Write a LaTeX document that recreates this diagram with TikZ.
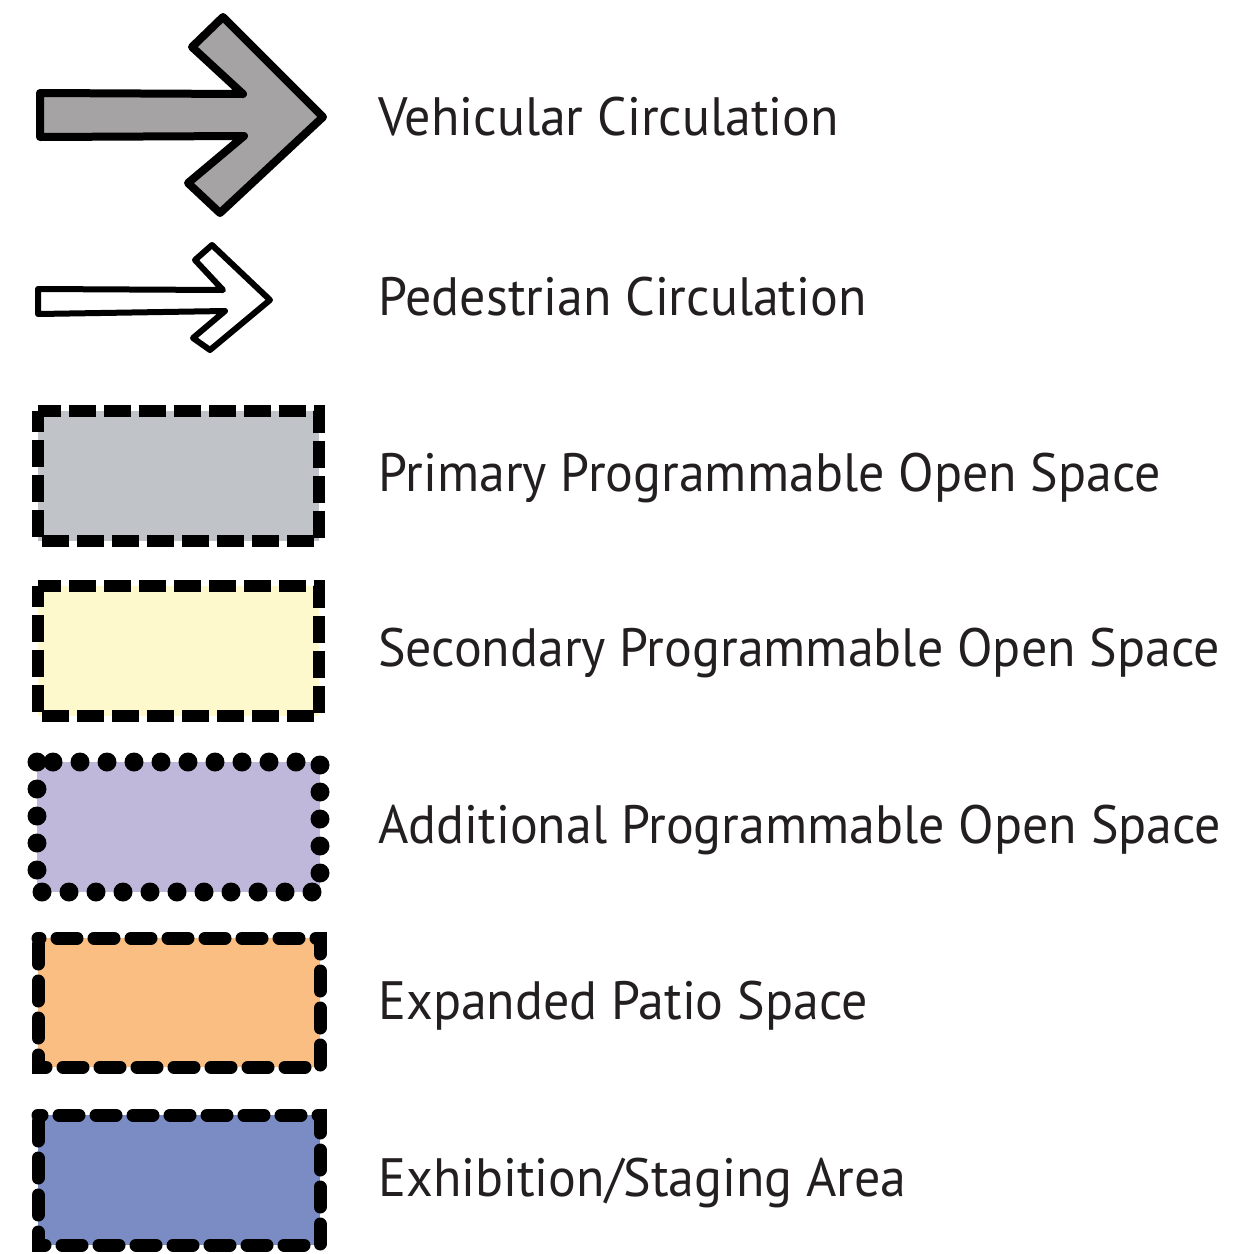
\documentclass[tikz,border=0pt]{standalone}
\usepackage{fontspec}
\setmainfont{PT Sans}[FakeStretch=0.962]
\usepackage{tikz}
\definecolor{vehgray}{HTML}{A5A3A4}
\definecolor{primgray}{HTML}{C0C4C8}
\definecolor{secyellow}{HTML}{FEF9CD}
\definecolor{addpurple}{HTML}{BFB8DB}
\definecolor{patioorange}{HTML}{FABD82}
\definecolor{stageblue}{HTML}{7B8BC3}
\definecolor{inkblack}{HTML}{231F20}
\tikzstyle{label}=[anchor=base west, inner sep=0pt, font=\fontsize{27}{30}\selectfont, text=inkblack]
\tikzstyle{bigarrow}=[draw=black, line width=4pt, line join=round, fill=vehgray]
\tikzstyle{smallarrow}=[draw=black, line width=3pt, line join=round, fill=white]
\tikzstyle{dashbox}=[draw=black, line width=6pt, dash pattern=on 13.5pt off 4pt, dash phase=3pt]
\tikzstyle{dotbox}=[draw=black, line width=9.5pt, line cap=round, dash pattern=on 0pt off 13.5pt]
\tikzstyle{roundbox}=[draw=black, line width=6.5pt, line cap=round, dash pattern=on 10pt off 8.5pt, dash phase=-3pt]

\begin{document}
\begin{tikzpicture}[x=0.5pt, y=-0.5pt]
    \useasboundingbox (0,0) rectangle (1240,1254);
    % arrows
    \draw[bigarrow] (40,93) -- (243,94) -- (192,47) -- (223,17) -- (323,117)
        -- (220,213) -- (188,183) -- (244,136) -- (40,137) -- cycle;
    \draw[smallarrow] (38,289) -- (223,290) -- (195,260) -- (212,245) -- (270,300)
        -- (210,350) -- (193,338) -- (225,311) -- (38,314) -- cycle;
    % boxes
    \path[dashbox, fill=primgray] (38,411) rectangle (319,541);
    \path[dashbox, fill=secyellow] (38,586) rectangle (319,716);
    \path[fill=addpurple] (37,762) rectangle (320,892);
    \path[dotbox] (37,762) rectangle (320,892);
    \path[roundbox, fill=patioorange] (38,938) rectangle (320,1067);
    \path[roundbox, fill=stageblue] (38,1115) rectangle (320,1245);
    % texts
    \node[label] (veh) at (378,135) {Vehicular Circulation};
    \node[label] (ped) at (378,315) {Pedestrian Circulation};
    \node[label] (prim) at (378,491) {Primary Programmable Open Space};
    \node[label] (sec) at (378,666) {Secondary Programmable Open Space};
    \node[label] (add) at (378,843) {Additional Programmable Open Space};
    \node[label] (patio) at (378,1019) {Expanded Patio Space};
    \node[label] (stage) at (378,1196) {Exhibition/Staging Area};
\end{tikzpicture}
\end{document}
